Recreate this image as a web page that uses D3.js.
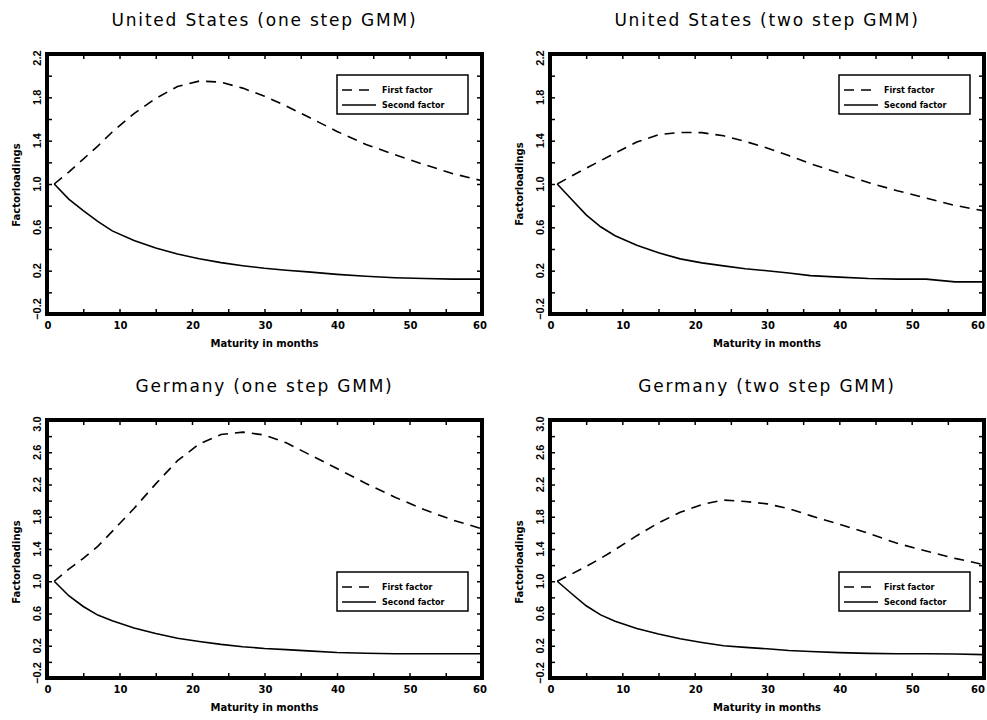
<!DOCTYPE html>
<html>
<head>
<meta charset="utf-8">
<script src="https://cdn.jsdelivr.net/npm/d3@7"></script>
<style>
  body { margin: 0; background: #fff; }
  svg { display: block; }
</style>
</head>
<body>
<div id="chart"></div>
<script>
// maturities in months
const maturities = [1, 3, 5, 7, 9, 12, 15, 18, 21, 24, 27, 30, 33, 36, 40, 44, 48, 52, 56, 60];

// United States, one step GMM
const usOneFirst = [1.00, 1.11, 1.23, 1.35, 1.48, 1.65, 1.79, 1.90, 1.95, 1.94, 1.885, 1.81, 1.72, 1.62, 1.485, 1.365, 1.27, 1.18, 1.095, 1.03];
const usOneSecond = [1.00, 0.86, 0.754, 0.655, 0.567, 0.478, 0.41, 0.353, 0.31, 0.274, 0.246, 0.222, 0.204, 0.189, 0.166, 0.148, 0.135, 0.127, 0.122, 0.122];

// United States, two step GMM
const usTwoFirst = [1.00, 1.075, 1.146, 1.215, 1.286, 1.387, 1.455, 1.476, 1.474, 1.445, 1.393, 1.332, 1.262, 1.188, 1.101, 1.013, 0.938, 0.87, 0.802, 0.752];
const usTwoSecond = [1.00, 0.857, 0.715, 0.605, 0.523, 0.435, 0.365, 0.309, 0.272, 0.244, 0.218, 0.199, 0.178, 0.154, 0.14, 0.128, 0.122, 0.122, 0.097, 0.097];

// Germany, one step GMM
const deOneFirst = [1.00, 1.15, 1.285, 1.433, 1.618, 1.903, 2.208, 2.496, 2.703, 2.82, 2.85, 2.814, 2.717, 2.58, 2.398, 2.213, 2.042, 1.889, 1.758, 1.65];
const deOneSecond = [1.00, 0.82, 0.687, 0.58, 0.51, 0.42, 0.353, 0.293, 0.253, 0.217, 0.188, 0.166, 0.152, 0.137, 0.117, 0.107, 0.10, 0.10, 0.10, 0.10];

// Germany, two step GMM
const deTwoFirst = [1.00, 1.09, 1.184, 1.284, 1.392, 1.565, 1.724, 1.855, 1.952, 2.007, 1.99, 1.96, 1.90, 1.814, 1.707, 1.595, 1.47, 1.375, 1.284, 1.205];
const deTwoSecond = [1.00, 0.845, 0.696, 0.583, 0.503, 0.413, 0.345, 0.286, 0.24, 0.20, 0.18, 0.162, 0.141, 0.129, 0.115, 0.105, 0.10, 0.10, 0.098, 0.09];

const titles = [
  'United States (one step GMM)',
  'United States (two step GMM)',
  'Germany (one step GMM)',
  'Germany (two step GMM)',
];
const legendLabels = ['First factor', 'Second factor'];
const xTickLabels = [0, 10, 20, 30, 40, 50, 60];
const usYTickLabels = [-0.2, 0.2, 0.6, 1.0, 1.4, 1.8, 2.2];
const deYTickLabels = [-0.2, 0.2, 0.6, 1.0, 1.4, 1.8, 2.2, 2.6, 3.0];
const xTitle = 'Maturity in months';
const yTitle = 'Factorloadings';

const width = 987;
const height = 720;

// panel boxes in page pixels
const panels = [
  { title: titles[0], first: usOneFirst, second: usOneSecond, yTicks: usYTickLabels,
    left: 47, right: 482, top: 54, bottom: 314, legendTop: 21, yTitleY: 185 },
  { title: titles[1], first: usTwoFirst, second: usTwoSecond, yTicks: usYTickLabels,
    left: 550, right: 984, top: 54, bottom: 314, legendTop: 21, yTitleY: 184 },
  { title: titles[2], first: deOneFirst, second: deOneSecond, yTicks: deYTickLabels,
    left: 47, right: 482, top: 420, bottom: 678, legendTop: 152, yTitleY: 562 },
  { title: titles[3], first: deTwoFirst, second: deTwoSecond, yTicks: deYTickLabels,
    left: 550, right: 984, top: 420, bottom: 678, legendTop: 152, yTitleY: 562 },
];

const dash = '10,7';

const svg = d3.select('#chart')
  .append('svg')
  .attr('width', width)
  .attr('height', height)
  .style('background', '#fff');

const renderPanel = (p) => {
  const g = svg.append('g');
  const yMin = d3.min(p.yTicks);
  const yMax = d3.max(p.yTicks);

  const x = d3.scaleLinear().domain([0, 60]).range([p.left, p.right]);
  const y = d3.scaleLinear().domain([yMin, yMax]).range([p.bottom, p.top]);

  const xMinor = d3.range(0, 61, 5);
  const yMinor = d3.range(Math.round(yMin * 5), Math.round(yMax * 5) + 1).map((i) => i / 5);

  // title
  g.append('text')
    .attr('x', (p.left + p.right) / 2)
    .attr('y', p.top - 28)
    .attr('text-anchor', 'middle')
    .style('font-family', '"DejaVu Sans", sans-serif')
    .style('font-size', '17px')
    .style('letter-spacing', '1.8px')
    .text(p.title);

  // ticks, all pointing inward
  const axes = [
    [d3.axisBottom(x).tickValues(xMinor).tickFormat(''), `translate(0,${p.bottom})`],
    [d3.axisTop(x).tickValues(xMinor).tickFormat(''), `translate(0,${p.top})`],
    [d3.axisLeft(y).tickValues(yMinor).tickFormat(''), `translate(${p.left},0)`],
    [d3.axisRight(y).tickValues(yMinor).tickFormat(''), `translate(${p.right},0)`],
  ];
  axes.forEach(([axis, tr]) => {
    const a = g.append('g')
      .attr('transform', tr)
      .call(axis.tickSize(-5));
    a.select('.domain').remove();
    a.selectAll('.tick line').attr('stroke', '#000').attr('stroke-width', 1.5);
  });

  // x tick labels (kept inside the page on the right edge)
  g.selectAll('.xlab')
    .data(xTickLabels)
    .enter()
    .append('text')
    .attr('x', (d) => Math.min(x(d) + (d === 60 ? -2 : 1), width - 9))
    .attr('y', p.bottom + 15)
    .attr('text-anchor', 'middle')
    .style('font-family', '"DejaVu Sans", sans-serif')
    .style('font-weight', 'bold')
    .style('font-size', '10px')
    .text((d) => d);

  // y tick labels, rotated
  const fmt = d3.format('.1f');
  g.selectAll('.ylab')
    .data(p.yTicks)
    .enter()
    .append('text')
    .attr('transform', (d) => {
      const yy = Math.max(p.top + 4, Math.min(p.bottom - 5, y(d)));
      return `translate(${p.left - 6},${yy}) rotate(-90)`;
    })
    .attr('text-anchor', 'middle')
    .style('font-family', '"Liberation Sans Narrow", "Liberation Sans", sans-serif')
    .style('font-weight', 'bold')
    .style('font-size', '11px')
    .text((d) => fmt(d));

  // axis titles
  g.append('text')
    .attr('x', (p.left + p.right) / 2)
    .attr('y', p.bottom + 33)
    .attr('text-anchor', 'middle')
    .style('font-family', '"DejaVu Sans", sans-serif')
    .style('font-weight', 'bold')
    .style('font-size', '10px')
    .text(xTitle);

  g.append('text')
    .attr('transform', `translate(${p.left - 27},${p.yTitleY}) rotate(-90)`)
    .attr('text-anchor', 'middle')
    .style('font-family', '"DejaVu Sans", sans-serif')
    .style('font-weight', 'bold')
    .style('font-size', '10px')
    .text(yTitle);

  // lines
  const line = d3.line()
    .x((d) => x(d[0]))
    .y((d) => y(d[1]));

  g.append('path')
    .datum(maturities.map((m, i) => [m, p.first[i]]))
    .attr('d', line)
    .attr('fill', 'none')
    .attr('stroke', '#000')
    .attr('stroke-width', 1.6)
    .attr('stroke-dasharray', dash);

  g.append('path')
    .datum(maturities.map((m, i) => [m, p.second[i]]))
    .attr('d', line)
    .attr('fill', 'none')
    .attr('stroke', '#000')
    .attr('stroke-width', 1.6);

  // frame
  g.append('rect')
    .attr('x', p.left)
    .attr('y', p.top)
    .attr('width', p.right - p.left)
    .attr('height', p.bottom - p.top)
    .attr('fill', 'none')
    .attr('stroke', '#000')
    .attr('stroke-width', 4);

  // legend
  const lx = p.right - 145;
  const ly = p.top + p.legendTop;
  const leg = g.append('g');
  leg.append('rect')
    .attr('x', lx)
    .attr('y', ly)
    .attr('width', 131)
    .attr('height', 39)
    .attr('fill', '#fff')
    .attr('stroke', '#000')
    .attr('stroke-width', 1.5);
  legendLabels.forEach((lab, i) => {
    const ry = ly + 15 + i * 15;
    leg.append('line')
      .attr('x1', lx + 5)
      .attr('x2', lx + 39)
      .attr('y1', ry)
      .attr('y2', ry)
      .attr('stroke', '#000')
      .attr('stroke-width', 1.5)
      .attr('stroke-dasharray', i === 0 ? dash : null);
    leg.append('text')
      .attr('x', lx + 45)
      .attr('y', ry + 3)
      .style('font-family', '"DejaVu Sans", sans-serif')
      .style('font-weight', 'bold')
      .style('font-size', '8px')
      .text(lab);
  });
};

panels.forEach(renderPanel);
</script>
</body>
</html>
